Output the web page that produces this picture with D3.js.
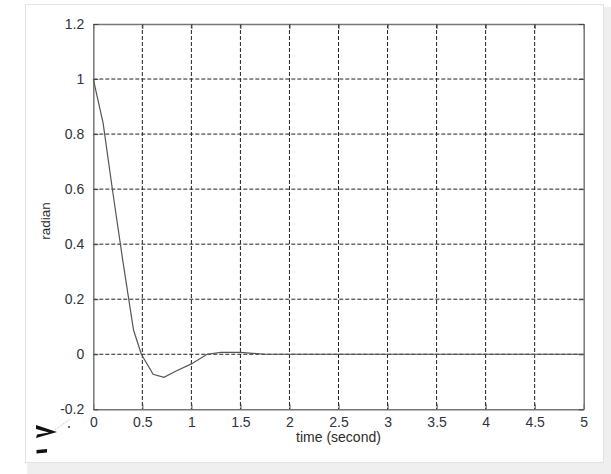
<!DOCTYPE html>
<html>
<head>
<meta charset="utf-8">
<script src="https://cdn.jsdelivr.net/npm/d3@7"></script>
<style>
  body { margin: 0; background: #fff; }
  text { font-family: "Liberation Sans", Arial, sans-serif; }
</style>
</head>
<body>
<div id="chart"></div>
<script>
// step response
const timeVals = [0, 0.1, 0.2, 0.3, 0.41, 0.49, 0.61, 0.72, 0.85, 1.0, 1.16, 1.3, 1.5, 1.75, 2, 3, 4, 5];
const radianVals = [1, 0.84, 0.586, 0.342, 0.088, 0, -0.073, -0.084, -0.06, -0.035, 0, 0.007, 0.007, 0, 0, 0, 0, 0];
const xTicks = [0, 0.5, 1, 1.5, 2, 2.5, 3, 3.5, 4, 4.5, 5];
const yTicks = [-0.2, 0, 0.2, 0.4, 0.6, 0.8, 1, 1.2];

const W = 611, H = 474;
const margin = { left: 93.3, right: 27.3, top: 24, bottom: 64.7 };
const width = W - margin.left - margin.right;
const height = H - margin.top - margin.bottom;

const svg = d3.select('#chart').append('svg')
  .attr('width', W)
  .attr('height', H);

// paper frame + shadow
svg.append('rect')
  .attr('x', 27).attr('y', 7).attr('width', 584).attr('height', 467)
  .attr('fill', '#efefef');
svg.append('rect')
  .attr('x', 25.5).attr('y', 4.5).attr('width', 578).attr('height', 458)
  .attr('fill', '#fff').attr('stroke', '#e2e2e2').attr('stroke-width', 1);

// scan leftovers in the lower left corner
svg.append('path')
  .attr('d', 'M36,425 L57,432 L36,438 L37,434.5 L49,432.4 L36,429 Z')
  .attr('fill', '#111');
svg.append('path')
  .attr('d', 'M36.5,450 L47,449 L47,452.5 L36.5,453.5 Z')
  .attr('fill', '#111');
svg.append('line')
  .attr('x1', 55).attr('y1', 430).attr('x2', 70).attr('y2', 419)
  .attr('stroke', '#aaa').attr('stroke-width', 0.8).attr('stroke-dasharray', '1,1');
svg.append('circle').attr('cx', 69).attr('cy', 427).attr('r', 1).attr('fill', '#333');

const g = svg.append('g')
  .attr('transform', `translate(${margin.left}, ${margin.top})`);

const x = d3.scaleLinear().domain([0, 5]).range([0, width]);
const y = d3.scaleLinear().domain([-0.2, 1.2]).range([height, 0]);

// dashed grid
g.append('g').selectAll('line')
  .data(xTicks.filter(d => d > 0 && d < 5))
  .enter().append('line')
    .attr('x1', d => x(d)).attr('x2', d => x(d))
    .attr('y1', 0).attr('y2', height)
    .attr('stroke', '#222').attr('stroke-width', 1)
    .attr('stroke-dasharray', '4,2');

g.append('g').selectAll('line')
  .data(yTicks.filter(d => d > -0.2 && d < 1.2))
  .enter().append('line')
    .attr('x1', 0).attr('x2', width)
    .attr('y1', d => y(d)).attr('y2', d => y(d))
    .attr('stroke', '#222').attr('stroke-width', 1)
    .attr('stroke-dasharray', '4,2');

// axes, MATLAB style inward ticks
const fmt = d => String(d);
const styleAxis = sel => {
  sel.select('.domain').attr('stroke', '#777').attr('stroke-width', 1.5);
  sel.selectAll('.tick line').attr('stroke', '#444');
  sel.selectAll('.tick text')
    .attr('fill', '#2f333c')
    .attr('font-size', '14px')
    .attr('font-family', '"Liberation Sans", Arial, sans-serif');
};

g.append('g')
  .attr('transform', `translate(0, ${height})`)
  .call(d3.axisBottom(x).tickValues(xTicks).tickFormat(fmt).tickSizeInner(-5).tickSizeOuter(0).tickPadding(8))
  .call(styleAxis);

g.append('g')
  .call(d3.axisTop(x).tickValues(xTicks).tickFormat('').tickSizeInner(-5).tickSizeOuter(0))
  .call(styleAxis);

g.append('g')
  .call(d3.axisLeft(y).tickValues(yTicks).tickFormat(fmt).tickSizeInner(-5).tickSizeOuter(0).tickPadding(9))
  .call(styleAxis);

g.append('g')
  .attr('transform', `translate(${width}, 0)`)
  .call(d3.axisRight(y).tickValues(yTicks).tickFormat('').tickSizeInner(-5).tickSizeOuter(0))
  .call(styleAxis);

// response curve
const pts = timeVals.map((t, i) => [t, radianVals[i]]);
g.append('path')
  .datum(pts)
  .attr('fill', 'none')
  .attr('stroke', '#555')
  .attr('stroke-width', 1.2)
  .attr('d', d3.line().x(d => x(d[0])).y(d => y(d[1])));

// axis titles
g.append('text')
  .attr('x', width / 2)
  .attr('y', height + 33)
  .attr('text-anchor', 'middle')
  .attr('font-size', '14px')
  .attr('fill', '#2b2b2b')
  .text('time (second)');

g.append('text')
  .attr('transform', `translate(${45 - margin.left}, ${221 - margin.top}) rotate(-90)`)
  .attr('text-anchor', 'middle')
  .attr('dy', '0.35em')
  .attr('font-size', '13.5px')
  .attr('fill', '#2b2b2b')
  .text('radian');
</script>
</body>
</html>
